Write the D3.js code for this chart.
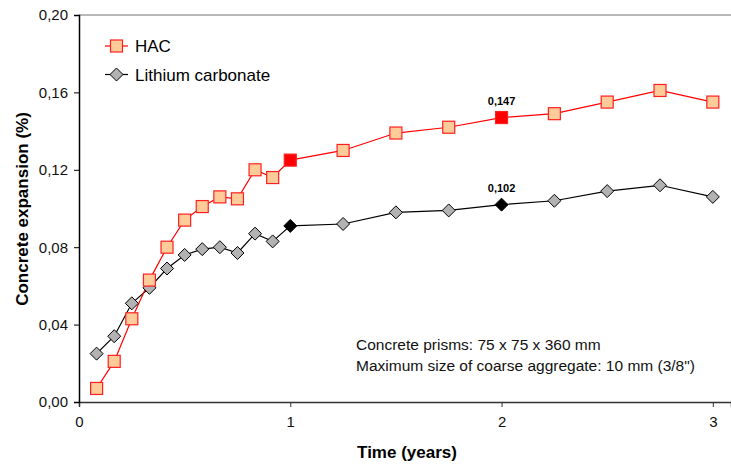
<!DOCTYPE html>
<html><head><meta charset="utf-8">
<script src="https://cdn.jsdelivr.net/npm/d3@7"></script>
<style>body{margin:0;background:#fff}svg{display:block;font-family:"Liberation Sans",Arial,sans-serif}</style>
</head><body><svg id="c" width="731" height="466"></svg>
<script>
const times = [1/12,2/12,3/12,4/12,5/12,6/12,7/12,8/12,9/12,10/12,11/12,1,1.25,1.5,1.75,2,2.25,2.5,2.75,3];
const hac = [0.007,0.021,0.043,0.063,0.080,0.094,0.101,0.106,0.105,0.120,0.116,0.125,0.130,0.139,0.142,0.147,0.149,0.155,0.161,0.155];
const lithium = [0.025,0.034,0.051,0.059,0.069,0.076,0.079,0.080,0.077,0.087,0.083,0.091,0.092,0.098,0.099,0.102,0.104,0.109,0.112,0.106];
const highlightTimes = [1,2];
const labelTime = 2;
const xTicks = [0,1,2,3];
const yTicks = [0,0.04,0.08,0.12,0.16,0.20];
const seriesNames = ["HAC","Lithium carbonate"];
const noteLines = ["Concrete prisms: 75 x 75 x 360 mm","Maximum size of coarse aggregate: 10 mm (3/8\")"];

const svg = d3.select("#c");
const x = d3.scaleLinear().domain([0,3.086]).range([79,731]);
const y = d3.scaleLinear().domain([0,0.20]).range([402,15]);
const fmt = d3.format(".2f");
const comma = v => fmt(v).replace(".",",");

// top border
svg.append("line").attr("x1",79).attr("x2",731).attr("y1",y(0.20)).attr("y2",y(0.20))
  .attr("stroke","#a0a0a0").attr("stroke-width",1.5);

// axes
const gx = svg.append("g").attr("transform",`translate(0,${y(0)})`)
  .call(d3.axisBottom(x).tickValues(xTicks).tickSize(5).tickPadding(9).tickFormat(d3.format("d")));
gx.select(".domain").attr("stroke","#333").attr("stroke-width",1.5);
gx.selectAll(".tick line").attr("stroke","#333");
gx.selectAll("text").attr("font-size",15).attr("fill","#111").attr("font-family","Liberation Sans, Arial");

const gy = svg.append("g").attr("transform",`translate(${x(0)},0)`)
  .call(d3.axisLeft(y).tickValues(yTicks).tickSize(5).tickPadding(6).tickFormat(comma));
gy.select(".domain").attr("stroke","#000").attr("stroke-width",1.5);
gy.selectAll("text").attr("font-size",15).attr("fill","#111").attr("font-family","Liberation Sans, Arial");

// axis titles
svg.append("text").attr("x",407).attr("y",458).attr("text-anchor","middle")
  .attr("font-size",17).attr("font-weight","bold").text("Time (years)");
svg.append("text").attr("transform","translate(28,209) rotate(-90)").attr("text-anchor","middle")
  .attr("font-size",17).attr("font-weight","bold").text("Concrete expansion (%)");

const line = d3.line().x(d=>x(d[0])).y(d=>y(d[1]));
const hacData = times.map((t,i)=>[t,hac[i]]);
const liData = times.map((t,i)=>[t,lithium[i]]);

svg.append("path").datum(liData).attr("d",line).attr("fill","none").attr("stroke","#000").attr("stroke-width",1.2);
svg.append("path").datum(hacData).attr("d",line).attr("fill","none").attr("stroke","#ff0000").attr("stroke-width",1.2);

const isHi = t => highlightTimes.some(h=>Math.abs(h-t)<1e-6);
function drawDiamond(g,cx,cy,fill){
  g.append("path").attr("d","M0,-6.5L6.5,0L0,6.5L-6.5,0Z").attr("transform",`translate(${cx},${cy})`)
    .attr("fill",fill).attr("stroke","#000").attr("stroke-width",1);
}
function drawSquare(g,cx,cy,fill){
  g.append("rect").attr("x",cx-6).attr("y",cy-6).attr("width",12).attr("height",12)
    .attr("fill",fill).attr("stroke","#ff2020").attr("stroke-width",1.2);
}
const gm = svg.append("g");
liData.forEach(d=>drawDiamond(gm,x(d[0]),y(d[1]),isHi(d[0])?"#000":"#b2b2b2"));
hacData.forEach(d=>drawSquare(gm,x(d[0]),y(d[1]),isHi(d[0])?"#ff0000":"#ffcc99"));

// value labels
const li2 = times.findIndex(t=>t===labelTime);
[hac[li2],lithium[li2]].forEach(v=>{
  svg.append("text").attr("x",x(labelTime)).attr("y",y(v)-13).attr("text-anchor","middle")
    .attr("font-size",11).attr("font-weight","bold").text(d3.format(".3f")(v).replace(".",","));
});

// legend
const lg = svg.append("g");
[[0,"#ff0000"],[1,"#000"]].forEach(([i,c])=>{
  const ly = 46 + i*28.5;
  lg.append("line").attr("x1",105).attr("x2",128).attr("y1",ly).attr("y2",ly).attr("stroke",c).attr("stroke-width",1.2);
  if(i===0) drawSquare(lg,116.5,ly,"#ffcc99"); else drawDiamond(lg,116.5,ly,"#b2b2b2");
  lg.append("text").attr("x",135).attr("y",ly+6).attr("font-size",17).text(seriesNames[i]);
});

// note
noteLines.forEach((t,i)=>{
  svg.append("text").attr("x",356).attr("y",350+i*20.5).attr("font-size",15.5).attr("fill","#111").text(t);
});
</script></body></html>
